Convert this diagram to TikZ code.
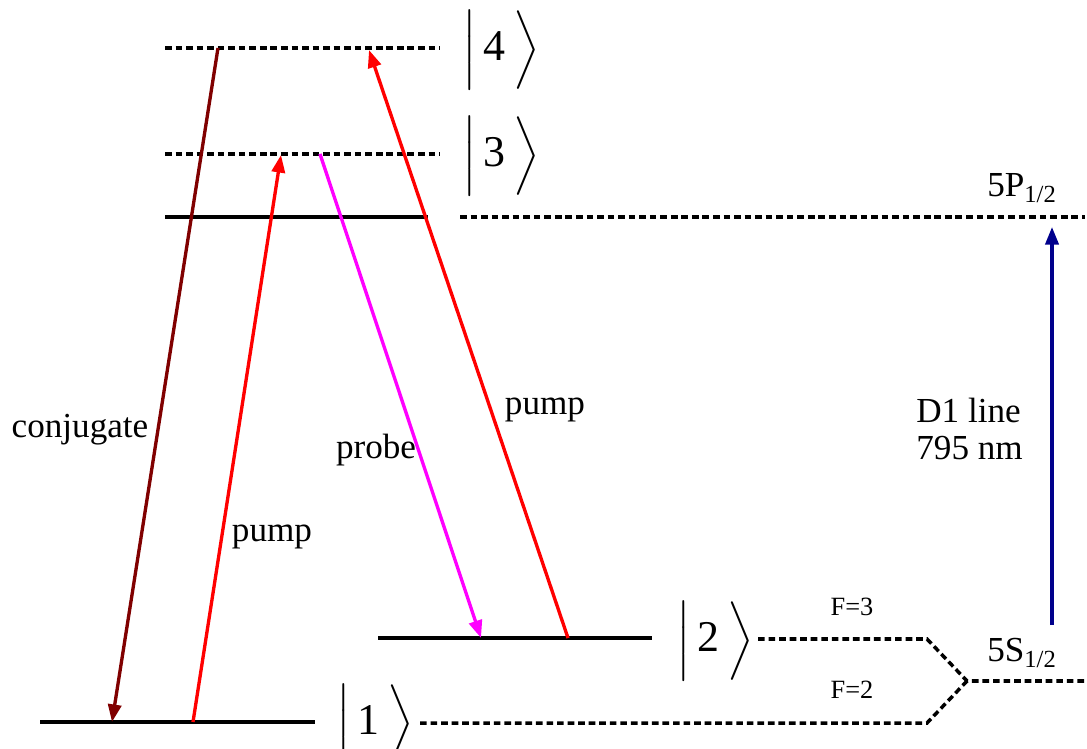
\documentclass[tikz,border=0pt]{standalone}
\usepackage{amsmath}
\usepackage{fontspec}
\setmainfont{Liberation Serif}
\usetikzlibrary{arrows.meta,calc,positioning}
\definecolor{darkred}{rgb}{0.5,0,0}
\definecolor{darkblue}{rgb}{0,0,0.55}
\definecolor{probepink}{rgb}{1,0,1}
\tikzset{
  level/.style={line width=2.4pt},
  virtual/.style={line width=2pt, dash pattern=on 3.8pt off 2.2pt},
  beam/.style={line width=1.9pt, -{Triangle[length=10pt,width=7.5pt]}},
  lbl/.style={font=\fontsize{20}{24}\selectfont, inner sep=0pt},
  small/.style={font=\fontsize{15}{18}\selectfont, inner sep=0pt},
  ket/.style={font=\fontsize{25}{28}\selectfont, inner sep=0pt}
}
\newcommand{\ketlabel}[1]{$\left|\rule[-11pt]{0pt}{34pt}\,\mbox{#1}\,\right\rangle$}
\begin{document}
\begin{tikzpicture}[x=0.02cm, y=-0.02cm]
            \useasboundingbox (0,0) rectangle (1087,749);
            % Virtual levels 4 and 3
            \draw[virtual] (165,48) -- (440,48);
            \draw[virtual] (165,154) -- (440,154);
            \node[ket] (k4) at (501,50) {\ketlabel{4}};
            \node[ket] (k3) at (501,156) {\ketlabel{3}};
            % Excited level 5P
            \draw[level] (165,217) -- (428,217);
            \draw[virtual] (460,217) -- (1085,217);
            \node[lbl] (p12) at (1022,188) {5P\textsubscript{1/2}};
            % Ground levels 1 and 2
            \draw[level] (378,638) -- (652,638);
            \draw[level] (40,722) -- (315,722);
            \node[ket] (k2) at (715,641) {\ketlabel{2}};
            \node[ket] (k1) at (375,724) {\ketlabel{1}};
            % Hyperfine splitting of 5S
            \draw[virtual] (758,639) -- (927,639) -- (967,681) -- (1085,681);
            \draw[virtual] (420,723) -- (927,723) -- (967,681);
            \node[small] (f3) at (852,607) {F=3};
            \node[small] (f2) at (852,690) {F=2};
            \node[lbl] (s12) at (1022,653) {5S\textsubscript{1/2}};
            % D1 transition
            \coordinate (d1a) at (1052,625);
            \coordinate (d1b) at (1052,227);
            \draw[beam, darkblue] (d1a) -- (d1b);
            \node[lbl, anchor=west] (d1) at (916,410) {D1 line};
            \node[lbl, anchor=west] (nm) at (916,448) {795 nm};
            % Four-wave mixing beams
            \coordinate (c4) at (218,48);
            \coordinate (c1) at (112,722);
            \coordinate (u1) at (193,722);
            \coordinate (u3) at (281,155);
            \coordinate (r3) at (320,154);
            \coordinate (r2) at (481,638);
            \coordinate (w2) at (568,638);
            \coordinate (w4) at (369,50);
            \draw[beam, darkred] (c4) -- (c1);
            \draw[beam, red] (u1) -- (u3);
            \draw[beam, probepink] (r3) -- (r2);
            \draw[beam, red] (w2) -- (w4);
            \node[lbl] (conj) at (80,430) {conjugate};
            \node[lbl] (pu1) at (272,537) {pump};
            \node[lbl] (pr) at (376,450) {probe};
            \node[lbl] (pu2) at (545,410) {pump};
          \end{tikzpicture}
\end{document}
